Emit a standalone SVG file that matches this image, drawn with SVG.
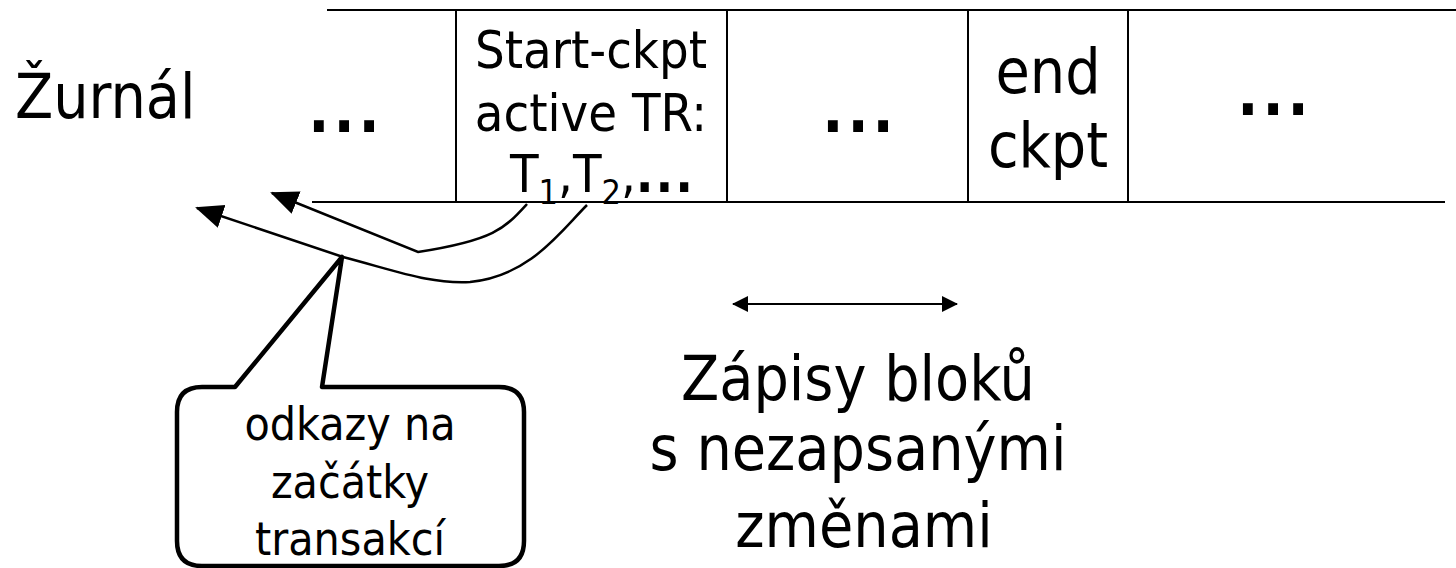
<svg xmlns="http://www.w3.org/2000/svg" width="1456" height="568" viewBox="0 0 1456 568">
<style>
text{font-family:"DejaVu Sans Condensed","DejaVu Sans","Liberation Sans",sans-serif;fill:#000}
.big{font-size:62px}
.mid{font-size:52px}
.sm{font-size:46px}
.c{text-anchor:middle}
.dots{font-weight:bold;letter-spacing:4px}
.ln{stroke:#000;stroke-width:2;fill:none}
.cv{stroke:#000;stroke-width:2.5;fill:none}
</style>
<defs>
<marker id="ah" markerUnits="userSpaceOnUse" markerWidth="30" markerHeight="30" viewBox="0 0 30 30" refX="26" refY="15" orient="auto">
<path d="M0,3 L28,15 L0,27 Z" fill="#000"/>
</marker>
<marker id="sa" markerUnits="userSpaceOnUse" markerWidth="18" markerHeight="18" viewBox="0 0 18 18" refX="15" refY="9" orient="auto-start-reverse">
<path d="M0,1 L16,9 L0,17 Z" fill="#000"/>
</marker>
</defs>
<g id="label-zurnal"><text class="big" x="15" y="118">Žurnál</text></g>
<g id="log">
<line class="ln" x1="327" y1="10" x2="1456" y2="10"/>
<line class="ln" x1="312" y1="202" x2="1445" y2="202"/>
<line class="ln" x1="456" y1="10" x2="456" y2="202"/>
<line class="ln" x1="727" y1="10" x2="727" y2="202"/>
<line class="ln" x1="968" y1="10" x2="968" y2="202"/>
<line class="ln" x1="1128" y1="10" x2="1128" y2="202"/>
</g>
<g id="cell1"><text class="big c dots" x="346" y="132">...</text></g>
<g id="cell-start">
<text class="mid c" x="591" y="68">Start-ckpt</text>
<text class="mid c" x="591" y="131">active TR:</text>
<text class="mid" x="510" y="192">T<tspan font-size="34" dy="12">1</tspan><tspan dy="-12">,T</tspan><tspan font-size="34" dy="12">2</tspan><tspan dy="-12">,</tspan><tspan class="dots" style="letter-spacing:2px">...</tspan></text>
</g>
<g id="cell3"><text class="big c dots" x="860" y="132">...</text></g>
<g id="cell-end">
<text class="big c" x="1048" y="93">end</text>
<text class="big c" x="1048" y="167">ckpt</text>
</g>
<g id="cell5"><text class="big c dots" x="1275" y="115">...</text></g>
<g id="connectors">
<path class="cv" d="M527,204 C505,228 495,240 418,252 L272,193" marker-end="url(#ah)"/>
<path class="cv" d="M587,205 C560,232 530,276 470,282 C430,284 400,272 343,257 L197,208" marker-end="url(#ah)"/>
<line class="ln" x1="733" y1="304" x2="957" y2="304" marker-start="url(#sa)" marker-end="url(#sa)"/>
</g>
<g id="callout">
<path d="M235,387 L342,257 L322,387 L499,387 Q524,387 524,412 L524,541 Q524,566 499,566 L202,566 Q177,566 177,541 L177,412 Q177,387 202,387 Z" fill="#fff" stroke="#000" stroke-width="4.5" stroke-linejoin="round"/>
<text class="sm c" x="350" y="440">odkazy na</text>
<text class="sm c" x="350" y="498">začátky</text>
<text class="sm c" x="350" y="555">transakcí</text>
</g>
<g id="label-zapisy">
<text class="big c" x="858" y="400">Zápisy bloků</text>
<text class="big c" x="858" y="470">s nezapsanými</text>
<text class="big c" x="864" y="547">změnami</text>
</g>
</svg>
